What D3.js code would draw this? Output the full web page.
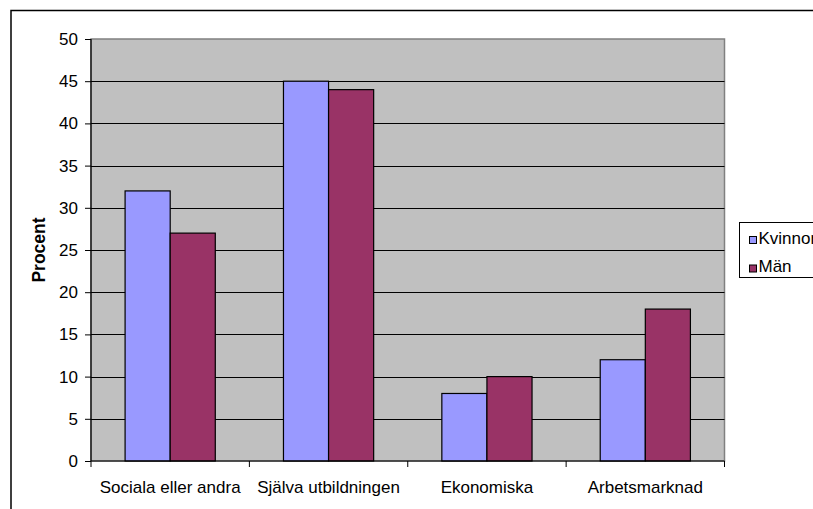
<!DOCTYPE html>
<html><head><meta charset="utf-8">
<script src="https://cdn.jsdelivr.net/npm/d3@7"></script>
<style>body{margin:0;background:#fff}svg{display:block}text{font-family:Arial,"Liberation Sans",sans-serif}</style>
</head><body>
<script>
const categories = ["Sociala eller andra", "Själva utbildningen", "Ekonomiska", "Arbetsmarknad"];
const seriesNames = ["Kvinnor", "Män"];
const kvinnor = [32, 45, 8, 12];
const man = [27, 44, 10, 18];
const yTicks = [0, 5, 10, 15, 20, 25, 30, 35, 40, 45, 50];
const colors = ["#9999FF", "#993366"];

(function () {
const W = 813, H = 509, FS = 17;
const svg = d3.select("body").append("svg").attr("width", W).attr("height", H);
// outer chart border
svg.append("rect").attr("x", 11).attr("y", 10.5).attr("width", 840).attr("height", 540)
  .attr("fill", "#fff").attr("stroke", "#000").attr("stroke-width", 1.5);

const pLeft = 91, pRight = 724.5, pTop = 39, pBottom = 461;
const x0 = d3.scaleBand().domain(categories).range([pLeft, pRight]).padding(0);
const x1 = d3.scaleBand().domain(seriesNames).range([0, x0.bandwidth()]).paddingInner(0).paddingOuter(0.756);
const y = d3.scaleLinear().domain([0, 50]).range([pBottom, pTop]);

// plot area
svg.append("rect").attr("x", pLeft).attr("y", pTop).attr("width", pRight - pLeft).attr("height", pBottom - pTop)
  .attr("fill", "#C0C0C0").attr("stroke", "#808080").attr("stroke-width", 1.5);

// gridlines
svg.append("g").selectAll("line").data(yTicks.filter(d => d > 0 && d < 50)).join("line")
  .attr("x1", pLeft).attr("x2", pRight).attr("y1", d => Math.round(y(d)) + 0.5).attr("y2", d => Math.round(y(d)) + 0.5)
  .attr("stroke", "#000").attr("stroke-width", 1);

// bars
const data = categories.map((c, i) => ({c, vals: [kvinnor[i], man[i]]}));
const g = svg.append("g");
data.forEach(d => {
  d.vals.forEach((v, j) => {
    g.append("rect")
      .attr("x", x0(d.c) + x1(seriesNames[j]))
      .attr("y", y(v))
      .attr("width", x1.bandwidth())
      .attr("height", y(0) - y(v))
      .attr("fill", colors[j]).attr("stroke", "#000").attr("stroke-width", 1.2);
  });
});

// y axis
const yAxis = d3.axisLeft(y).tickValues(yTicks).tickSize(6).tickPadding(7);
const ya = svg.append("g").attr("transform", `translate(${pLeft},0)`).call(yAxis);
ya.attr("font-size", null).attr("font-family", null);
ya.select(".domain").attr("stroke", "#000").attr("stroke-width", 1.2).attr("d", `M0,${pTop}V${pBottom}`);
ya.selectAll(".tick line").attr("stroke", "#000");
ya.selectAll("text").style("font-size", FS + "px").attr("fill", "#000");

// x axis
const xa = svg.append("g").attr("transform", `translate(0,${pBottom})`);
xa.append("line").attr("x1", pLeft).attr("x2", pRight).attr("y1", 0).attr("y2", 0).attr("stroke", "#000").attr("stroke-width", 1.2);
const tickPos = categories.map(c => x0(c)).concat([x0(categories[3]) + x0.bandwidth()]);
xa.selectAll("line.t").data(tickPos).join("line").attr("class", "t")
  .attr("x1", d => d).attr("x2", d => d).attr("y1", 0).attr("y2", 6).attr("stroke", "#000");
xa.selectAll("text").data(categories).join("text")
  .attr("x", d => x0(d) + x0.bandwidth() / 2).attr("y", 32)
  .attr("text-anchor", "middle").style("font-size", FS + "px").attr("fill", "#000").text(d => d);

// y title
svg.append("text").attr("transform", `translate(45,${(pTop + pBottom) / 2}) rotate(-90)`)
  .attr("text-anchor", "middle").style("font-size", "17.5px").attr("font-weight", "bold").text("Procent");

// legend
const lg = svg.append("g").attr("transform", "translate(739,222)");
lg.append("rect").attr("x", 0.5).attr("y", 0.5).attr("width", 120).attr("height", 55)
  .attr("fill", "#fff").attr("stroke", "#000").attr("stroke-width", 1);
seriesNames.forEach((s, i) => {
  lg.append("rect").attr("x", 10.5).attr("y", 14.5 + i * 28.5).attr("width", 7).attr("height", 7)
    .attr("fill", colors[i]).attr("stroke", "#000");
  lg.append("text").attr("x", 19.5).attr("y", 22 + i * 28).style("font-size", FS + "px").text(s);
});
})();
</script>
</body></html>
